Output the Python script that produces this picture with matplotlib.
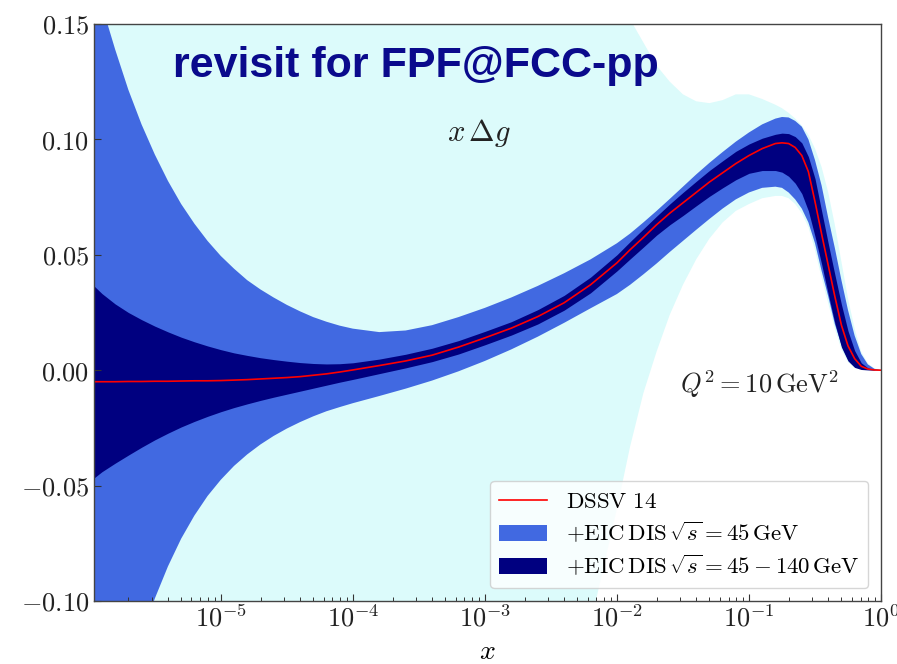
import numpy as np
import matplotlib.pyplot as plt
from matplotlib.ticker import FuncFormatter, LogLocator, FixedLocator

plt.rcParams['mathtext.fontset'] = 'cm'

# log10(x) nodes
logx = [-5.96, -5.9, -5.8, -5.7, -5.6, -5.5, -5.4, -5.3, -5.2, -5.1,
        -5.0, -4.9, -4.8, -4.7, -4.6, -4.5, -4.4, -4.3, -4.2, -4.1,
        -4.0, -3.8, -3.6, -3.4, -3.2, -3.0, -2.8, -2.6, -2.4, -2.2,
        -2.0, -1.9, -1.8, -1.7, -1.6, -1.5, -1.4, -1.3, -1.2, -1.1,
        -1.0, -0.9, -0.8, -0.75, -0.7, -0.65, -0.6, -0.55, -0.5, -0.45,
        -0.4, -0.35, -0.3, -0.25, -0.2, -0.15, -0.1, -0.05, 0.0]

# DSSV 14 central value
dssv = [-0.0050, -0.0050, -0.0050, -0.0049, -0.0049, -0.0048, -0.0048, -0.0047, -0.0046, -0.0046,
        -0.0045, -0.0043, -0.0041, -0.0038, -0.0035, -0.0032, -0.0028, -0.0022, -0.0016, -0.0008,
        0.0001, 0.0020, 0.0040, 0.0065, 0.0100, 0.0140, 0.0182, 0.0232, 0.0292, 0.0370,
        0.0465, 0.0522, 0.0575, 0.0630, 0.0680, 0.0725, 0.0770, 0.0815, 0.0855, 0.0895,
        0.0930, 0.0960, 0.0982, 0.0985, 0.0982, 0.0965, 0.0930, 0.0860, 0.0730, 0.0590,
        0.0455, 0.0320, 0.0195, 0.0105, 0.0050, 0.0017, 0.0005, 0.0001, 0.0]

# DSSV 14 uncertainty band (light)
dssv_hi = [0.25, 0.25, 0.25, 0.25, 0.25, 0.25, 0.25, 0.25, 0.25, 0.25,
           0.25, 0.25, 0.25, 0.25, 0.25, 0.25, 0.25, 0.25, 0.25, 0.25,
           0.25, 0.25, 0.25, 0.25, 0.25, 0.25, 0.25, 0.25, 0.21, 0.185,
           0.162, 0.152, 0.142, 0.132, 0.125, 0.1195, 0.1165, 0.1157, 0.117, 0.1195,
           0.1195, 0.1175, 0.1150, 0.1135, 0.1115, 0.1090, 0.1060, 0.1020, 0.096, 0.088,
           0.077, 0.063, 0.047, 0.031, 0.018, 0.008, 0.003, 0.0008, 0.0]
dssv_lo = [-0.25, -0.25, -0.25, -0.25, -0.25, -0.25, -0.25, -0.25, -0.25, -0.25,
           -0.25, -0.25, -0.25, -0.25, -0.25, -0.25, -0.25, -0.25, -0.25, -0.25,
           -0.25, -0.25, -0.25, -0.25, -0.25, -0.25, -0.25, -0.25, -0.20, -0.11,
           -0.060, -0.033, -0.010, 0.008, 0.024, 0.037, 0.048, 0.057, 0.064, 0.069,
           0.072, 0.0745, 0.0755, 0.0755, 0.0745, 0.072, 0.068, 0.062, 0.052, 0.040,
           0.029, 0.018, 0.009, 0.0035, 0.001, 0.0002, 0.0, 0.0, 0.0]

# +EIC DIS sqrt(s)=45 GeV
eic45_hi = [0.175, 0.158, 0.139, 0.1215, 0.1065, 0.0935, 0.082, 0.072, 0.0635, 0.056,
            0.0495, 0.044, 0.039, 0.035, 0.0315, 0.0283, 0.0255, 0.023, 0.021, 0.0193,
            0.018, 0.0165, 0.0172, 0.0195, 0.023, 0.027, 0.0315, 0.0365, 0.042, 0.048,
            0.0550, 0.0592, 0.0640, 0.0690, 0.0742, 0.0795, 0.0848, 0.0898, 0.0945, 0.0990,
            0.1030, 0.1065, 0.1090, 0.1097, 0.1095, 0.1080, 0.1055, 0.1000, 0.0910, 0.0800,
            0.0660, 0.0530, 0.0390, 0.0260, 0.0150, 0.0070, 0.0025, 0.0006, 0.0]
eic45_lo = [-0.190, -0.175, -0.153, -0.133, -0.115, -0.099, -0.085, -0.073, -0.063, -0.0545,
            -0.0475, -0.0415, -0.0365, -0.0322, -0.0285, -0.0253, -0.0225, -0.0200, -0.0178, -0.0160,
            -0.0143, -0.0112, -0.0080, -0.0045, -0.0005, 0.0040, 0.0090, 0.0145, 0.0205, 0.0268,
            0.0330, 0.0370, 0.0415, 0.0462, 0.0512, 0.0560, 0.0608, 0.0655, 0.0700, 0.0740,
            0.0770, 0.0790, 0.0795, 0.0790, 0.0770, 0.0740, 0.0700, 0.0640, 0.0550, 0.0430,
            0.0320, 0.0200, 0.0110, 0.0045, 0.0015, 0.0004, 0.0001, 0.0, 0.0]

# +EIC DIS sqrt(s)=45-140 GeV
eic140_hi = [0.0365, 0.0332, 0.0287, 0.0250, 0.0219, 0.0191, 0.0166, 0.0143, 0.0123, 0.0105,
             0.0089, 0.0075, 0.0064, 0.0054, 0.0046, 0.0039, 0.0033, 0.0029, 0.0027, 0.0028,
             0.0032, 0.0048, 0.0069, 0.0095, 0.0128, 0.0168, 0.0210, 0.0262, 0.0324, 0.0403,
             0.0500, 0.0557, 0.0612, 0.0667, 0.0720, 0.0770, 0.0818, 0.0865, 0.0907, 0.0948,
             0.0980, 0.1005, 0.1022, 0.1027, 0.1025, 0.1012, 0.0985, 0.0925, 0.0830, 0.0690,
             0.0550, 0.0415, 0.0285, 0.0170, 0.0085, 0.0032, 0.0010, 0.0002, 0.0]
eic140_lo = [-0.0467, -0.0440, -0.0403, -0.0368, -0.0334, -0.0302, -0.0273, -0.0246, -0.0222, -0.0200,
             -0.0180, -0.0162, -0.0146, -0.0131, -0.0117, -0.0104, -0.0091, -0.0078, -0.0065, -0.0052,
             -0.0040, -0.0015, 0.0010, 0.0037, 0.0070, 0.0110, 0.0152, 0.0200, 0.0260, 0.0335,
             0.0430, 0.0482, 0.0533, 0.0585, 0.0630, 0.0670, 0.0712, 0.0753, 0.0790, 0.0825,
             0.0853, 0.0865, 0.0865, 0.0858, 0.0840, 0.0810, 0.0765, 0.0690, 0.0580, 0.0460,
             0.0330, 0.0205, 0.0100, 0.0040, 0.0012, 0.0003, 0.0001, 0.0, 0.0]

yticks = [-0.10, -0.05, 0.00, 0.05, 0.10, 0.15]
xdecades = [-5, -4, -3, -2, -1, 0]

x = 10.0 ** np.array(logx)

fig = plt.figure(figsize=(8.97, 6.64), dpi=100)
ax = fig.add_axes([0.1048, 0.0949, 0.8774, 0.869])

ax.fill_between(x, dssv_lo, dssv_hi, color='#dcfbfb', lw=0)
h45 = ax.fill_between(x, eic45_lo, eic45_hi, color='royalblue', lw=0,
                      label=r'$+\mathrm{EIC\,DIS}\,\sqrt{s}=45\,\mathrm{GeV}$')
h140 = ax.fill_between(x, eic140_lo, eic140_hi, color='navy', lw=0,
                       label=r'$+\mathrm{EIC\,DIS}\,\sqrt{s}=45-140\,\mathrm{GeV}$')
hred, = ax.plot(x, dssv, color='red', lw=1.2, label=r'$\mathrm{DSSV\ 14}$')

ax.set_xscale('log')
ax.set_xlim(10.0 ** logx[0], 1.0)
ax.set_ylim(-0.10, 0.15)

ax.xaxis.set_major_locator(FixedLocator([10.0 ** d for d in xdecades]))
ax.xaxis.set_minor_locator(LogLocator(base=10, subs=np.arange(2, 10), numticks=20))
ax.xaxis.set_major_formatter(FuncFormatter(lambda v, p: r'$10^{%d}$' % round(np.log10(v))))
ax.set_yticks(yticks)
ax.yaxis.set_major_formatter(FuncFormatter(lambda v, p: r'$%.2f$' % v if abs(v) > 1e-9 else r'$0.00$'))

ax.tick_params(axis='both', which='major', direction='in', length=5, width=0.8,
               labelsize=19, top=False, right=False, colors='#333333', labelcolor='#222222')
ax.tick_params(axis='x', which='minor', direction='in', length=3, width=0.7,
               top=False, colors='#333333')
for s in ax.spines.values():
    s.set_color('#444444')
    s.set_linewidth(1.0)

ax.set_xlabel(r'$x$', fontsize=20, labelpad=3)

fig.text(0.193, 0.884, 'revisit for FPF@FCC-pp', fontsize=31, fontweight='bold',
         family='Liberation Sans', color='#0a0a8c', ha='left', va='baseline')
fig.text(0.534, 0.80, r'$x\,\Delta g$', fontsize=22, ha='center', va='center', color='#222222')
fig.text(0.758, 0.408, r'$Q^2 = 10\,\mathrm{GeV}^2$', fontsize=19, ha='left',
         va='baseline', color='#222222')

ax.legend(handles=[hred, h45, h140], loc='lower right', fontsize=16.5,
          handlelength=2.1, borderaxespad=0.55, labelspacing=0.35)

plt.savefig('out.png', dpi=100)
